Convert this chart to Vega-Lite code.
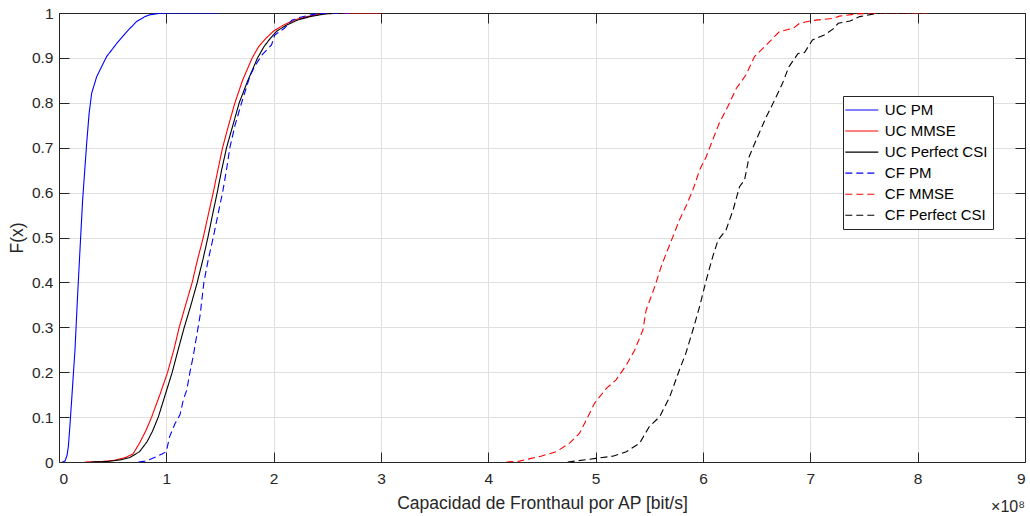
{
  "$schema": "https://vega.github.io/schema/vega-lite/v6.json",
  "width": 966,
  "height": 449,
  "autosize": {"type": "none"},
  "padding": {"left": 59, "top": 13, "right": 5, "bottom": 54},
  "background": "white",
  "title": {"text": "×10⁸", "orient": "bottom", "anchor": "end", "frame": "group", "offset": -13, "fontSize": 16, "fontWeight": "normal", "color": "#262626", "font": "Liberation Sans"},
  "config": {
    "font": "Liberation Sans",
    "view": {"stroke": null},
    "axis": {"labelFont": "Liberation Sans", "titleFont": "Liberation Sans", "labelColor": "#262626", "titleColor": "#262626", "domainColor": "#262626", "tickColor": "#262626", "gridColor": "#dfdfdf", "gridOpacity": 1, "labelFontSize": 15.5, "titleFontSize": 17.5, "titleFontWeight": "normal", "tickSize": -10, "domainWidth": 1, "tickWidth": 1},
    "legend": {"labelFont": "Liberation Sans", "labelFontSize": 15, "labelColor": "#000000"}
  },
  "data": {"values": [
    {"s":"UC PM","x":0.03,"y":0},{"s":"UC PM","x":0.056,"y":0.002},{"s":"UC PM","x":0.075,"y":0.015},{"s":"UC PM","x":0.087,"y":0.034},{"s":"UC PM","x":0.1,"y":0.075},{"s":"UC PM","x":0.118,"y":0.138},{"s":"UC PM","x":0.135,"y":0.2},{"s":"UC PM","x":0.149,"y":0.25},{"s":"UC PM","x":0.171,"y":0.36},{"s":"UC PM","x":0.195,"y":0.47},{"s":"UC PM","x":0.22,"y":0.583},{"s":"UC PM","x":0.24,"y":0.65},{"s":"UC PM","x":0.258,"y":0.71},{"s":"UC PM","x":0.28,"y":0.775},{"s":"UC PM","x":0.304,"y":0.821},{"s":"UC PM","x":0.351,"y":0.858},{"s":"UC PM","x":0.4,"y":0.882},{"s":"UC PM","x":0.444,"y":0.903},{"s":"UC PM","x":0.537,"y":0.932},{"s":"UC PM","x":0.63,"y":0.958},{"s":"UC PM","x":0.723,"y":0.981},{"s":"UC PM","x":0.8,"y":0.992},{"s":"UC PM","x":0.847,"y":0.996},{"s":"UC PM","x":0.93,"y":0.999},{"s":"UC PM","x":1.0,"y":1},{"s":"UC PM","x":1.5,"y":1},
    {"s":"UC MMSE","x":0.24,"y":0},{"s":"UC MMSE","x":0.4,"y":0.001},{"s":"UC MMSE","x":0.52,"y":0.004},{"s":"UC MMSE","x":0.62,"y":0.01},{"s":"UC MMSE","x":0.69,"y":0.018},{"s":"UC MMSE","x":0.75,"y":0.042},{"s":"UC MMSE","x":0.81,"y":0.07},{"s":"UC MMSE","x":0.863,"y":0.1},{"s":"UC MMSE","x":0.94,"y":0.15},{"s":"UC MMSE","x":1.012,"y":0.2},{"s":"UC MMSE","x":1.07,"y":0.25},{"s":"UC MMSE","x":1.12,"y":0.3},{"s":"UC MMSE","x":1.18,"y":0.35},{"s":"UC MMSE","x":1.241,"y":0.4},{"s":"UC MMSE","x":1.29,"y":0.45},{"s":"UC MMSE","x":1.344,"y":0.5},{"s":"UC MMSE","x":1.39,"y":0.55},{"s":"UC MMSE","x":1.437,"y":0.6},{"s":"UC MMSE","x":1.48,"y":0.65},{"s":"UC MMSE","x":1.524,"y":0.7},{"s":"UC MMSE","x":1.58,"y":0.75},{"s":"UC MMSE","x":1.639,"y":0.8},{"s":"UC MMSE","x":1.71,"y":0.85},{"s":"UC MMSE","x":1.8,"y":0.9},{"s":"UC MMSE","x":1.86,"y":0.925},{"s":"UC MMSE","x":1.93,"y":0.944},{"s":"UC MMSE","x":2.0,"y":0.96},{"s":"UC MMSE","x":2.09,"y":0.973},{"s":"UC MMSE","x":2.2,"y":0.985},{"s":"UC MMSE","x":2.31,"y":0.992},{"s":"UC MMSE","x":2.45,"y":0.998},{"s":"UC MMSE","x":2.6,"y":1},{"s":"UC MMSE","x":3.0,"y":1},
    {"s":"UC Perfect CSI","x":0.3,"y":0},{"s":"UC Perfect CSI","x":0.45,"y":0.001},{"s":"UC Perfect CSI","x":0.58,"y":0.005},{"s":"UC Perfect CSI","x":0.66,"y":0.01},{"s":"UC Perfect CSI","x":0.75,"y":0.023},{"s":"UC Perfect CSI","x":0.82,"y":0.045},{"s":"UC Perfect CSI","x":0.87,"y":0.068},{"s":"UC Perfect CSI","x":0.925,"y":0.1},{"s":"UC Perfect CSI","x":0.99,"y":0.15},{"s":"UC Perfect CSI","x":1.055,"y":0.2},{"s":"UC Perfect CSI","x":1.11,"y":0.25},{"s":"UC Perfect CSI","x":1.167,"y":0.3},{"s":"UC Perfect CSI","x":1.23,"y":0.35},{"s":"UC Perfect CSI","x":1.288,"y":0.4},{"s":"UC Perfect CSI","x":1.34,"y":0.45},{"s":"UC Perfect CSI","x":1.387,"y":0.5},{"s":"UC Perfect CSI","x":1.43,"y":0.55},{"s":"UC Perfect CSI","x":1.474,"y":0.6},{"s":"UC Perfect CSI","x":1.515,"y":0.65},{"s":"UC Perfect CSI","x":1.561,"y":0.7},{"s":"UC Perfect CSI","x":1.62,"y":0.75},{"s":"UC Perfect CSI","x":1.679,"y":0.8},{"s":"UC Perfect CSI","x":1.76,"y":0.85},{"s":"UC Perfect CSI","x":1.85,"y":0.9},{"s":"UC Perfect CSI","x":1.91,"y":0.925},{"s":"UC Perfect CSI","x":1.97,"y":0.944},{"s":"UC Perfect CSI","x":2.03,"y":0.96},{"s":"UC Perfect CSI","x":2.12,"y":0.973},{"s":"UC Perfect CSI","x":2.23,"y":0.985},{"s":"UC Perfect CSI","x":2.34,"y":0.992},{"s":"UC Perfect CSI","x":2.48,"y":0.998},{"s":"UC Perfect CSI","x":2.65,"y":1},
    {"s":"CF PM","x":0.74,"y":0},{"s":"CF PM","x":0.8,"y":0.002},{"s":"CF PM","x":0.84,"y":0.005},{"s":"CF PM","x":0.91,"y":0.012},{"s":"CF PM","x":0.96,"y":0.018},{"s":"CF PM","x":1.0,"y":0.023},{"s":"CF PM","x":1.03,"y":0.056},{"s":"CF PM","x":1.08,"y":0.085},{"s":"CF PM","x":1.127,"y":0.105},{"s":"CF PM","x":1.16,"y":0.14},{"s":"CF PM","x":1.19,"y":0.16},{"s":"CF PM","x":1.22,"y":0.2},{"s":"CF PM","x":1.25,"y":0.235},{"s":"CF PM","x":1.313,"y":0.324},{"s":"CF PM","x":1.35,"y":0.4},{"s":"CF PM","x":1.39,"y":0.45},{"s":"CF PM","x":1.437,"y":0.5},{"s":"CF PM","x":1.48,"y":0.55},{"s":"CF PM","x":1.524,"y":0.6},{"s":"CF PM","x":1.56,"y":0.65},{"s":"CF PM","x":1.592,"y":0.7},{"s":"CF PM","x":1.64,"y":0.75},{"s":"CF PM","x":1.701,"y":0.8},{"s":"CF PM","x":1.78,"y":0.86},{"s":"CF PM","x":1.82,"y":0.88},{"s":"CF PM","x":1.89,"y":0.906},{"s":"CF PM","x":1.98,"y":0.929},{"s":"CF PM","x":2.01,"y":0.951},{"s":"CF PM","x":2.1,"y":0.966},{"s":"CF PM","x":2.17,"y":0.984},{"s":"CF PM","x":2.24,"y":0.99},{"s":"CF PM","x":2.37,"y":0.997},{"s":"CF PM","x":2.5,"y":1},{"s":"CF PM","x":2.7,"y":1},
    {"s":"CF MMSE","x":4.168,"y":0},{"s":"CF MMSE","x":4.29,"y":0.002},{"s":"CF MMSE","x":4.49,"y":0.013},{"s":"CF MMSE","x":4.633,"y":0.023},{"s":"CF MMSE","x":4.757,"y":0.042},{"s":"CF MMSE","x":4.85,"y":0.064},{"s":"CF MMSE","x":4.913,"y":0.094},{"s":"CF MMSE","x":4.99,"y":0.131},{"s":"CF MMSE","x":5.1,"y":0.164},{"s":"CF MMSE","x":5.19,"y":0.183},{"s":"CF MMSE","x":5.286,"y":0.216},{"s":"CF MMSE","x":5.363,"y":0.249},{"s":"CF MMSE","x":5.44,"y":0.294},{"s":"CF MMSE","x":5.47,"y":0.338},{"s":"CF MMSE","x":5.55,"y":0.39},{"s":"CF MMSE","x":5.61,"y":0.435},{"s":"CF MMSE","x":5.658,"y":0.465},{"s":"CF MMSE","x":5.72,"y":0.502},{"s":"CF MMSE","x":5.78,"y":0.539},{"s":"CF MMSE","x":5.84,"y":0.569},{"s":"CF MMSE","x":5.906,"y":0.606},{"s":"CF MMSE","x":5.968,"y":0.65},{"s":"CF MMSE","x":6.03,"y":0.68},{"s":"CF MMSE","x":6.09,"y":0.717},{"s":"CF MMSE","x":6.15,"y":0.754},{"s":"CF MMSE","x":6.23,"y":0.791},{"s":"CF MMSE","x":6.31,"y":0.832},{"s":"CF MMSE","x":6.4,"y":0.862},{"s":"CF MMSE","x":6.48,"y":0.903},{"s":"CF MMSE","x":6.59,"y":0.929},{"s":"CF MMSE","x":6.71,"y":0.958},{"s":"CF MMSE","x":6.84,"y":0.966},{"s":"CF MMSE","x":6.9,"y":0.977},{"s":"CF MMSE","x":7.01,"y":0.983},{"s":"CF MMSE","x":7.21,"y":0.988},{"s":"CF MMSE","x":7.27,"y":0.993},{"s":"CF MMSE","x":7.44,"y":0.998},{"s":"CF MMSE","x":7.65,"y":1},{"s":"CF MMSE","x":8.09,"y":1},
    {"s":"CF Perfect CSI","x":4.74,"y":0},{"s":"CF Perfect CSI","x":5.0,"y":0.008},{"s":"CF Perfect CSI","x":5.16,"y":0.013},{"s":"CF Perfect CSI","x":5.286,"y":0.023},{"s":"CF Perfect CSI","x":5.41,"y":0.042},{"s":"CF Perfect CSI","x":5.5,"y":0.079},{"s":"CF Perfect CSI","x":5.597,"y":0.101},{"s":"CF Perfect CSI","x":5.69,"y":0.145},{"s":"CF Perfect CSI","x":5.78,"y":0.205},{"s":"CF Perfect CSI","x":5.84,"y":0.242},{"s":"CF Perfect CSI","x":5.906,"y":0.294},{"s":"CF Perfect CSI","x":5.968,"y":0.346},{"s":"CF Perfect CSI","x":6.03,"y":0.405},{"s":"CF Perfect CSI","x":6.09,"y":0.457},{"s":"CF Perfect CSI","x":6.14,"y":0.494},{"s":"CF Perfect CSI","x":6.215,"y":0.517},{"s":"CF Perfect CSI","x":6.28,"y":0.561},{"s":"CF Perfect CSI","x":6.34,"y":0.613},{"s":"CF Perfect CSI","x":6.387,"y":0.628},{"s":"CF Perfect CSI","x":6.43,"y":0.68},{"s":"CF Perfect CSI","x":6.495,"y":0.717},{"s":"CF Perfect CSI","x":6.59,"y":0.769},{"s":"CF Perfect CSI","x":6.667,"y":0.806},{"s":"CF Perfect CSI","x":6.74,"y":0.843},{"s":"CF Perfect CSI","x":6.8,"y":0.88},{"s":"CF Perfect CSI","x":6.886,"y":0.91},{"s":"CF Perfect CSI","x":6.946,"y":0.912},{"s":"CF Perfect CSI","x":7.02,"y":0.94},{"s":"CF Perfect CSI","x":7.13,"y":0.951},{"s":"CF Perfect CSI","x":7.21,"y":0.964},{"s":"CF Perfect CSI","x":7.26,"y":0.977},{"s":"CF Perfect CSI","x":7.37,"y":0.982},{"s":"CF Perfect CSI","x":7.46,"y":0.992},{"s":"CF Perfect CSI","x":7.57,"y":0.997},{"s":"CF Perfect CSI","x":7.65,"y":1},{"s":"CF Perfect CSI","x":7.9,"y":1}
  ]},
  "layer": [
    {
      "mark": {"type": "line", "strokeWidth": 1.1, "clip": true},
      "encoding": {
        "x": {"field": "x", "type": "quantitative", "scale": {"domain": [0, 9], "nice": false, "zero": false},
              "axis": {"orient": "bottom", "values": [0,1,2,3,4,5,6,7,8,9], "format": "d", "labelPadding": 19, "title": "Capacidad de Fronthaul por AP [bit/s]", "titlePadding": 8, "grid": true}},
        "y": {"field": "y", "type": "quantitative", "scale": {"domain": [0, 1], "nice": false, "zero": false},
              "axis": {"orient": "left", "values": [0,0.1,0.2,0.3,0.4,0.5,0.6,0.7,0.8,0.9,1], "format": "~g", "labelPadding": 16, "title": "F(x)", "titlePadding": 5, "grid": true}},
        "color": {"field": "s", "type": "nominal",
                  "scale": {"domain": ["UC PM","UC MMSE","UC Perfect CSI","CF PM","CF MMSE","CF Perfect CSI"], "range": ["#0000ff","#ff0000","#000000","#0000ff","#ff0000","#000000"]},
                  "legend": {"orient": "none", "legendX": 784, "legendY": 83, "title": null, "symbolType": "M-2.2,0H2.2", "symbolSize": 225, "symbolStrokeWidth": 1.1, "symbolOffset": 4.8, "rowPadding": 4.05, "padding": 5.5, "labelOffset": 14.5, "strokeColor": "#262626", "fillColor": "white", "cornerRadius": 0}},
        "strokeDash": {"field": "s", "type": "nominal",
                  "scale": {"domain": ["UC PM","UC MMSE","UC Perfect CSI","CF PM","CF MMSE","CF Perfect CSI"], "range": [[1,0],[1,0],[1,0],[7,4],[7,4],[7,4]]},
                  "legend": {"orient": "none", "legendX": 784, "legendY": 83, "title": null, "symbolType": "M-2.2,0H2.2", "symbolSize": 225, "symbolStrokeWidth": 1.1, "symbolOffset": 4.8, "rowPadding": 4.05, "padding": 5.5, "labelOffset": 14.5, "strokeColor": "#262626", "fillColor": "white", "cornerRadius": 0}}
      }
    },
    {
      "mark": {"type": "line", "opacity": 0},
      "encoding": {
        "x": {"field": "x", "type": "quantitative", "scale": {"domain": [0, 9], "nice": false, "zero": false},
              "axis": {"orient": "top", "values": [0,1,2,3,4,5,6,7,8,9], "labels": false, "title": null, "grid": false}},
        "y": {"field": "y", "type": "quantitative", "scale": {"domain": [0, 1], "nice": false, "zero": false},
              "axis": {"orient": "right", "values": [0,0.1,0.2,0.3,0.4,0.5,0.6,0.7,0.8,0.9,1], "labels": false, "title": null, "grid": false}}
      }
    }
  ],
  "resolve": {"axis": {"x": "independent", "y": "independent"}}
}
